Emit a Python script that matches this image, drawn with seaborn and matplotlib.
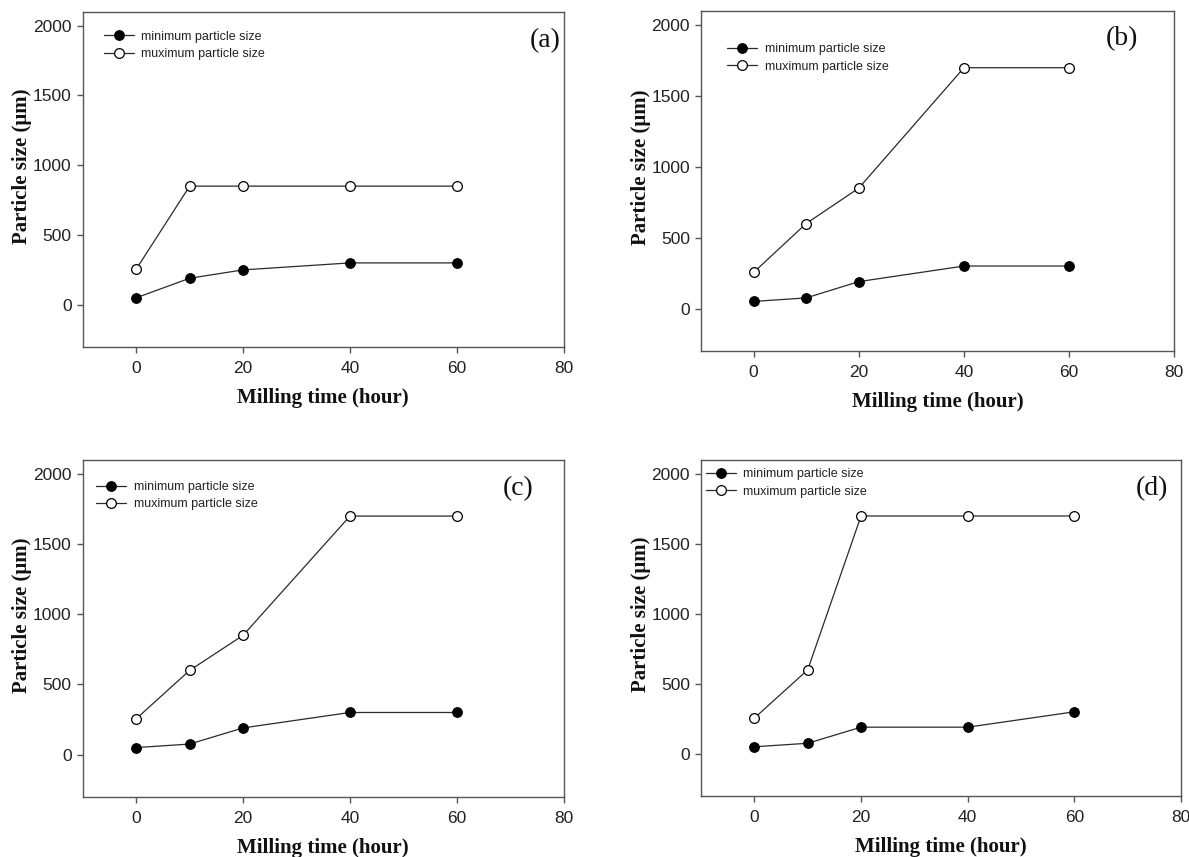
import pandas as pd
import numpy as np
import matplotlib
matplotlib.use('Agg')
import matplotlib.pyplot as plt
import seaborn as sns

# Data
hours = [0, 10, 20, 40, 60]
panel_labels = ['(a)', '(b)', '(c)', '(d)']
min_a = [50, 190, 250, 300, 300]
max_a = [255, 850, 850, 850, 850]
min_b = [50, 75, 190, 300, 300]
max_b = [255, 600, 850, 1700, 1700]
min_c = [50, 75, 190, 300, 300]
max_c = [255, 600, 850, 1700, 1700]
min_d = [50, 75, 190, 190, 300]
max_d = [255, 600, 1700, 1700, 1700]
series_names = ['minimum particle size', 'muximum particle size']
x_ticks = [0, 20, 40, 60, 80]
y_ticks = [0, 500, 1000, 1500, 2000]

sns.set_style('white')

SANS = 'Liberation Sans'
SERIF = 'Liberation Serif'
spine_col = '#555555'
line_col = '#2a2a2a'

fig = plt.figure(figsize=(11.89, 8.57), dpi=100)

# axes rectangles (left, bottom, width, height) in figure fractions
rects = [
    [0.0696, 0.5955, 0.4045, 0.3909],
    [0.5896, 0.5904, 0.3980, 0.3967],
    [0.0696, 0.0704, 0.4045, 0.3929],
    [0.5896, 0.0715, 0.4037, 0.3917],
]
legend_pos = [(0.044, 0.943), (0.055, 0.905), (0.028, 0.937), (0.010, 0.975)]
letter_pos = [(0.962, 0.915), (0.89, 0.92), (0.905, 0.915), (0.94, 0.915)]

mins = [min_a, min_b, min_c, min_d]
maxs = [max_a, max_b, max_c, max_d]

for i in range(4):
    ax = fig.add_axes(rects[i])
    df = pd.DataFrame({'hour': hours, 'min': mins[i], 'max': maxs[i]})

    sns.lineplot(data=df, x='hour', y='min', ax=ax, color=line_col, lw=0.9,
                 marker='o', markersize=7, markerfacecolor='black',
                 markeredgecolor='black', label=series_names[0], errorbar=None)
    sns.lineplot(data=df, x='hour', y='max', ax=ax, color=line_col, lw=0.9,
                 marker='o', markersize=7, markerfacecolor='white',
                 markeredgecolor='black', markeredgewidth=0.9,
                 label=series_names[1], errorbar=None)

    ax.set_xlim(-10, 80)
    ax.set_ylim(-300, 2100)
    ax.set_xticks(x_ticks)
    ax.set_yticks(y_ticks)
    for lab in ax.get_xticklabels() + ax.get_yticklabels():
        lab.set_fontfamily(SANS)
        lab.set_fontsize(12.5)
        lab.set_color('#222222')
    ax.tick_params(axis='both', direction='out', length=4, width=1,
                   color=spine_col, pad=4, left=True, bottom=True)
    ax.tick_params(axis='x', pad=6)
    for sp in ax.spines.values():
        sp.set_color(spine_col)
        sp.set_linewidth(1.0)

    ax.set_xlabel('Milling time (hour)', fontfamily=SERIF, fontweight='bold',
                  fontsize=15, color='#111111', labelpad=9)
    ax.set_ylabel('Particle size (\u03bcm)', fontfamily=SERIF, fontweight='bold',
                  fontsize=15, color='#111111')
    ax.yaxis.set_label_coords(-0.105, 0.54)

    leg = ax.legend(loc='upper left', bbox_to_anchor=legend_pos[i], frameon=False,
                    borderpad=0, borderaxespad=0, handlelength=2.4,
                    handletextpad=0.6, labelspacing=0.42,
                    prop={'family': SANS, 'size': 9})
    for t in leg.get_texts():
        t.set_color('#222222')

    ax.text(letter_pos[i][0], letter_pos[i][1], panel_labels[i], transform=ax.transAxes,
            ha='center', va='center', fontfamily=SERIF, fontsize=20, color='#111111')

fig.savefig('out.png', dpi=100)
